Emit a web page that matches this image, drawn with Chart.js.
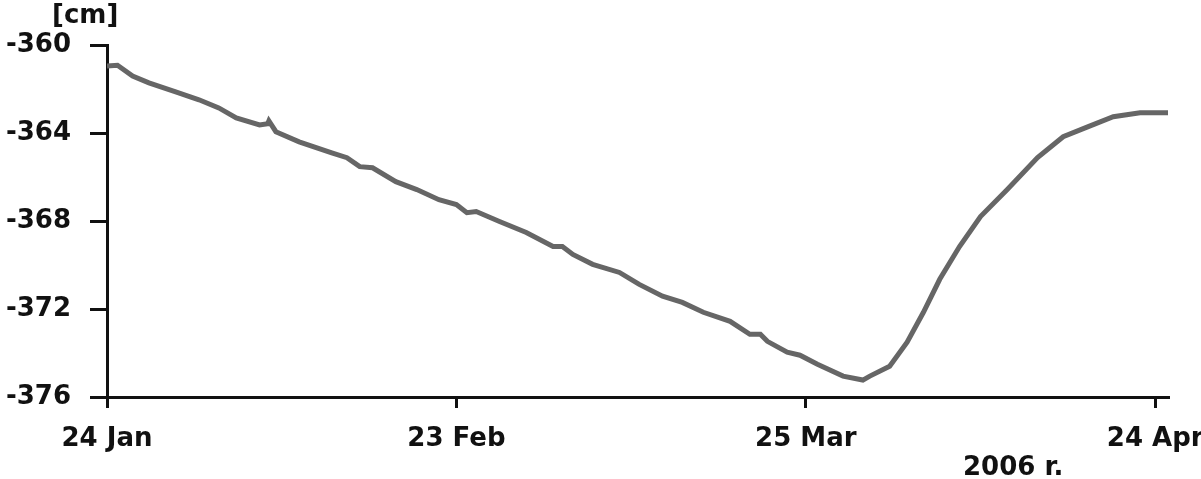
<!DOCTYPE html>
<html>
<head>
<meta charset="utf-8">
<script src="https://cdn.jsdelivr.net/npm/chart.js@4.4.1/dist/chart.umd.min.js"></script>
<style>
  html, body { margin: 0; padding: 0; background: #ffffff; }
  #wrap { width: 1201px; height: 479px; }
</style>
</head>
<body>
<div id="wrap"><canvas id="c" width="1201" height="479"></canvas></div>
<script>
// Days since 24 Jan 2006
const days = [0, 0.9, 2.2, 3.6, 5.9, 7.9, 9.6, 11.1, 13.1, 13.8, 13.9, 14.5, 16.5, 19.3, 20.6,
  21.7, 22.8, 24.8, 26.6, 28.5, 30.0, 30.9, 31.7, 33.7, 36.0, 38.3, 39.1, 40.0, 41.7, 44.0,
  45.7, 47.7, 49.4, 51.2, 53.5, 55.2, 56.1, 56.7, 58.4, 59.5, 61.0, 63.2, 64.9, 65.5, 67.2,
  68.7, 70.1, 71.5, 73.2, 75.0, 77.3, 79.9, 82.1, 84.2, 86.4, 88.7, 91.2];
// Water level [cm]
const level = [-360.95, -360.92, -361.41, -361.72, -362.13, -362.49, -362.86, -363.31, -363.63, -363.58, -363.45, -363.94, -364.40, -364.90, -365.12,
  -365.53, -365.58, -366.21, -366.57, -367.03, -367.25, -367.62, -367.57, -368.02, -368.52, -369.16, -369.16, -369.52, -369.97, -370.34,
  -370.88, -371.42, -371.70, -372.15, -372.56, -373.15, -373.15, -373.47, -373.96, -374.10, -374.51, -375.05, -375.23, -375.05, -374.60,
  -373.51, -372.15, -370.65, -369.16, -367.80, -366.57, -365.12, -364.17, -363.72, -363.26, -363.08, -363.08];
const xTickValues = [0, 30, 60, 90];
const xTickLabels = ['24 Jan', '23 Feb', '25 Mar', '24 Apr'];
const yTickValues = [-376, -372, -368, -364, -360];
const yUnit = '[cm]';
const yearLabel = '2006 r.';

const FONT = 'DejaVu Sans';
const FSIZE = 26;
const points = days.map((d, i) => ({ x: d, y: level[i] }));

const extraText = {
  id: 'extraText',
  afterDraw(chart) {
    const ctx = chart.ctx;
    ctx.save();
    ctx.fillStyle = '#111';
    ctx.font = 'bold ' + FSIZE + 'px "' + FONT + '"';
    ctx.textBaseline = 'middle';
    ctx.textAlign = 'left';
    ctx.fillText(yUnit, 52, 16);
    ctx.fillText(yearLabel, 963, 468);
    ctx.restore();
  }
};

new Chart(document.getElementById('c'), {
  type: 'line',
  data: {
    datasets: [{
      data: points,
      borderColor: '#666666',
      borderWidth: 5,
      pointRadius: 0,
      tension: 0,
      fill: false
    }]
  },
  options: {
    responsive: false,
    animation: false,
    devicePixelRatio: 1,
    layout: { padding: { top: 45, right: 33, left: 0, bottom: 0 } },
    plugins: { legend: { display: false }, tooltip: { enabled: false }, title: { display: false } },
    scales: {
      x: {
        type: 'linear',
        min: 0,
        max: 91.1,
        afterBuildTicks(scale) { scale.ticks = xTickValues.map(v => ({ value: v })); },
        afterFit(scale) { scale.height = 82; scale.paddingLeft = 0; scale.paddingRight = 0; },
        grid: { drawOnChartArea: false, drawTicks: true, tickLength: 11, color: '#111', lineWidth: 3 },
        border: { display: true, color: '#111', width: 3 },
        ticks: {
          autoSkip: false,
          maxRotation: 0,
          padding: 16,
          color: '#111',
          font: { family: FONT, size: FSIZE, weight: 'bold' },
          callback(v) { const i = xTickValues.indexOf(v); return i >= 0 ? xTickLabels[i] : ''; }
        }
      },
      y: {
        type: 'linear',
        min: -376,
        max: -360,
        afterBuildTicks(scale) { scale.ticks = yTickValues.map(v => ({ value: v })); },
        afterFit(scale) { scale.width = 107; scale.paddingTop = 0; scale.paddingBottom = 0; },
        grid: { drawOnChartArea: false, drawTicks: true, tickLength: 17, color: '#111', lineWidth: 3 },
        border: { display: true, color: '#111', width: 3 },
        ticks: {
          padding: 19,
          color: '#111',
          font: { family: FONT, size: FSIZE, weight: 'bold' },
          callback(v) { return String(v); }
        }
      }
    }
  },
  plugins: [extraText]
});
</script>
</body>
</html>
